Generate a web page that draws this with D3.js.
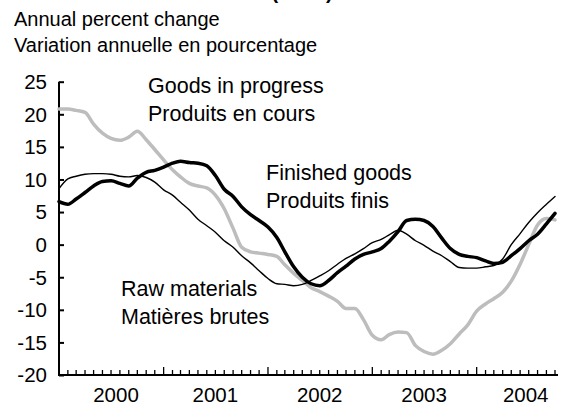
<!DOCTYPE html>
<html><head><meta charset="utf-8">
<script src="https://cdn.jsdelivr.net/npm/d3@7"></script>
<style>
html,body{margin:0;padding:0;background:#fff;}
svg{display:block;font-family:"Liberation Sans",Arial,Helvetica,sans-serif;}
</style></head>
<body>
<svg id="c" width="561" height="406"></svg>
<script>
// Monthly data, Jan 2000 – Oct 2004 (annual percent change)
const startYear = 2000, startMonth = 0;
const goodsInProgress = [20.8,20.8,20.6,20.3,18.5,17.1,16.3,16.0,16.5,17.4,16.1,14.6,
  13.0,11.5,10.4,9.4,9.0,8.7,7.6,5.5,2.5,-0.4,-1.1,-1.3,
  -1.5,-1.8,-3.1,-4.4,-5.5,-6.6,-7.2,-7.9,-8.7,-9.8,-9.8,-11.5,
  -13.9,-14.6,-13.8,-13.4,-13.5,-15.5,-16.4,-16.8,-16.2,-15.2,-13.7,-12.3,
  -10.2,-9.1,-8.3,-7.3,-5.6,-3.0,0.0,3.0,4.0,3.8];
const finishedGoods = [6.6,6.2,7.0,8.0,9.0,9.7,9.8,9.4,9.0,10.2,11.1,11.4,
  11.9,12.5,12.8,12.6,12.5,12.1,10.6,8.5,7.4,5.8,4.6,3.7,
  2.7,1.1,-1.1,-3.4,-5.0,-6.0,-6.3,-5.5,-4.3,-3.3,-2.2,-1.5,
  -1.1,-0.6,0.5,2.0,3.7,3.9,3.7,2.8,1.0,-0.6,-1.5,-1.8,
  -2.0,-2.5,-2.9,-2.7,-1.7,-0.6,0.6,1.6,3.2,4.8];
const rawMaterials = [8.6,10.1,10.5,10.8,10.9,10.9,10.8,10.5,10.4,10.6,10.3,9.6,
  8.4,7.6,6.5,5.3,3.9,2.9,1.9,0.6,-0.4,-1.7,-2.8,-4.0,
  -5.2,-6.0,-6.1,-6.3,-6.1,-5.5,-4.8,-4.0,-3.0,-2.1,-1.4,-0.6,
  0.3,0.8,1.5,2.2,1.6,0.6,-0.1,-1.0,-1.7,-2.6,-3.5,-3.6,
  -3.6,-3.4,-3.2,-2.2,0.0,1.7,3.4,4.9,6.2,7.4];
const yTicks = [25,20,15,10,5,0,-5,-10,-15,-20];
const yearLabels = ["2000","2001","2002","2003","2004"];
const seriesLabels = [["Goods in progress","Produits en cours"],["Finished goods","Produits finis"],["Raw materials","Matières brutes"]];
const unitLabels = ["Annual percent change","Variation annuelle en pourcentage"];

const svg = d3.select("#c");
const dates = goodsInProgress.map((_, i) => new Date(startYear, startMonth + i, 1));
const x = d3.scaleTime().domain([dates[0], dates[dates.length-1]]).range([59, 555]);
const y = d3.scaleLinear().domain([-20, 25]).range([375, 81.7]);

// clipped title remnant
svg.append("text").attr("x", 302).attr("y", -1).attr("text-anchor","middle")
  .attr("font-weight","bold").attr("font-size", 20).text("(cont.)");

// unit labels
unitLabels.forEach((t, i) => svg.append("text").attr("x", 14).attr("y", 26 + i*26)
  .attr("font-size", 20).attr("fill","#000").text(t));

// y axis
const yAxis = d3.axisRight(y).tickValues(yTicks).tickSize(5).tickFormat("");
const gy = svg.append("g").attr("transform","translate(59,0)").call(yAxis);
gy.select(".domain").attr("stroke","#000").attr("stroke-width",2).attr("d", `M0,${y(25)}V${y(-20)}`);
gy.selectAll(".tick line").attr("stroke","#000").attr("stroke-width",2);
svg.append("g").selectAll("text").data(yTicks).join("text")
  .attr("x", 47).attr("y", d => y(d)).attr("dy","0.36em").attr("text-anchor","end")
  .attr("font-size", 20.5).text(d => d);

// x axis: monthly ticks, longer at year boundaries
const months = d3.timeMonth.range(dates[0], d3.timeMonth.offset(dates[dates.length-1], 1));
const gx = svg.append("g");
gx.append("line").attr("x1", 58).attr("x2", x(dates[dates.length-1]) + 3)
  .attr("y1", y(-20)).attr("y2", y(-20)).attr("stroke","#000").attr("stroke-width",2);
gx.selectAll("line.t").data(months.slice(1)).join("line").attr("class","t")
  .attr("x1", d => x(d)).attr("x2", d => x(d))
  .attr("y1", y(-20)).attr("y2", d => y(-20) - (d.getMonth() === 0 ? 8 : 5))
  .attr("stroke","#000").attr("stroke-width",1.3);
gx.selectAll("text").data(yearLabels).join("text")
  .attr("x", d => x(new Date(+d, 6, 1)) + (d === "2000" ? 5 : d === "2004" ? -3 : 0))
  .attr("y", 402).attr("text-anchor","middle").attr("font-size", 20.5).text(d => d);

// lines
const line = d3.line().x((d, i) => x(dates[i])).y(d => y(d)).curve(d3.curveMonotoneX);
const series = [
  {v: goodsInProgress, c: "#bdbdbd", w: 3.5},
  {v: rawMaterials, c: "#000", w: 1.4},
  {v: finishedGoods, c: "#000", w: 3.5}
];
svg.append("g").selectAll("path").data(series).join("path")
  .attr("d", d => line(d.v)).attr("fill","none")
  .attr("stroke", d => d.c).attr("stroke-width", d => d.w)
  .attr("stroke-linejoin","round").attr("stroke-linecap","round");

// series labels
const labelPos = [[148, 93], [266, 180], [121, 296]];
seriesLabels.forEach((ls, i) => ls.forEach((t, j) =>
  svg.append("text").attr("x", labelPos[i][0]).attr("y", labelPos[i][1] + j*27.5)
    .attr("font-size", 21.5).text(t)));
</script>
</body></html>
